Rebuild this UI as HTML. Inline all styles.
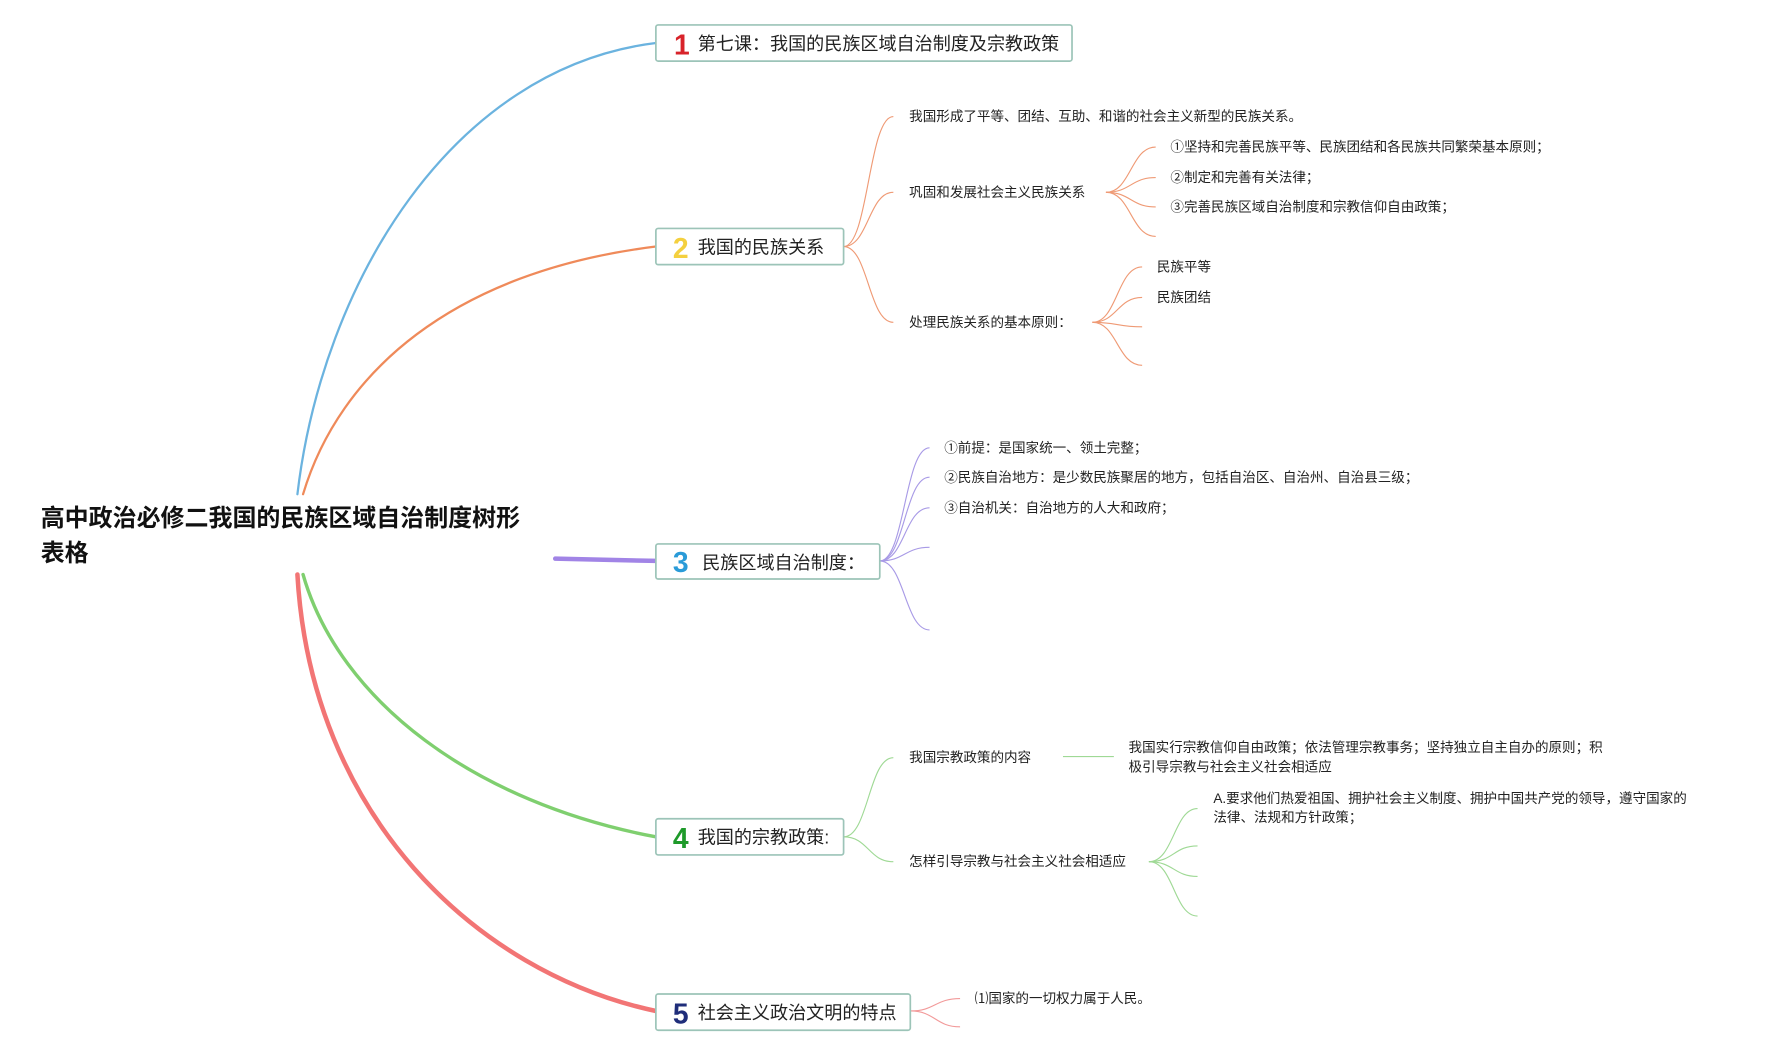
<!DOCTYPE html>
<html><head><meta charset="utf-8"><style>
html,body{margin:0;padding:0;background:#fff;width:1772px;height:1054px;overflow:hidden}
svg text{font-family:"Liberation Sans","Noto Sans CJK SC",sans-serif}
</style></head><body>
<svg width="1772" height="1054" viewBox="0 0 1567 932" xmlns="http://www.w3.org/2000/svg">
<g fill="none" stroke-linecap="round">
<path d="M263 437 C285 250 400 60 580 38" stroke="#6bb3df" stroke-width="2"/>
<path d="M268 437 C300 330 400 240 580 218" stroke="#ef8a5a" stroke-width="2"/>
<path d="M491 494 L580 496" stroke="#a184e6" stroke-width="4"/>
<path d="M268 508 C300 620 420 710 580 740" stroke="#7fcf6f" stroke-width="3"/>
<path d="M263 508 C275 720 420 860 580 894" stroke="#f27575" stroke-width="4"/>
</g>
<g fill="none" stroke="#ef9a75" stroke-width="1">
<path d="M746 218 C768 218 768 103 790 103"/>
<path d="M746 218 C768 218 768 170 790 170"/>
<path d="M746 218 C768 218 768 285 790 285"/>
<path d="M978 170 C1000 170 1000 130 1022 130"/>
<path d="M978 170 C1000 170 1000 157 1022 157"/>
<path d="M978 170 C1000 170 1000 183 1022 183"/>
<path d="M978 170 C1000 170 1000 209 1022 209"/>
<path d="M966 285 C988 285 988 236 1010 236"/>
<path d="M966 285 C988 285 988 263 1010 263"/>
<path d="M966 285 C988 285 988 289 1010 289"/>
<path d="M966 285 C988 285 988 323 1010 323"/>
</g>
<g fill="none" stroke="#a89ae6" stroke-width="1">
<path d="M778 496 C800 496 800 396 822 396"/>
<path d="M778 496 C800 496 800 422 822 422"/>
<path d="M778 496 C800 496 800 449 822 449"/>
<path d="M778 496 C800 496 800 484 822 484"/>
<path d="M778 496 C800 496 800 557 822 557"/>
</g>
<g fill="none" stroke="#9fd995" stroke-width="1">
<path d="M746 740 C768 740 768 670 790 670"/>
<path d="M746 740 C768 740 768 762 790 762"/>
<path d="M940 669 L985 669"/>
<path d="M1016 762 C1038 762 1038 715 1059 715"/>
<path d="M1016 762 C1038 762 1038 748 1059 748"/>
<path d="M1016 762 C1038 762 1038 775 1059 775"/>
<path d="M1016 762 C1038 762 1038 810 1059 810"/>
</g>
<g fill="none" stroke="#f29a9a" stroke-width="1">
<path d="M805 894 C827 894 827 883 849 883"/>
<path d="M805 894 C827 894 827 908 849 908"/>
</g>
<g fill="#fff" stroke="#9cc4b8" stroke-width="1.5">
<rect x="580" y="22" width="368" height="32" rx="2"/>
<rect x="580" y="202" width="166" height="32" rx="2"/>
<rect x="580" y="481" width="198" height="31" rx="2"/>
<rect x="580" y="724" width="166" height="32" rx="2"/>
<rect x="580" y="879" width="225" height="32" rx="2"/>
</g>
<g font-weight="bold" font-size="25">
<text x="596" y="48" fill="#d8232a">1</text>
<text x="595" y="228" fill="#f4d03f">2</text>
<text x="595" y="506" fill="#2a9bd8">3</text>
<text x="595" y="750" fill="#1e9a2a">4</text>
<text x="595" y="905" fill="#1f2d7a">5</text>
</g>
<g font-size="16" fill="#222">
<text x="617" y="44">第七课：我国的民族区域自治制度及宗教政策</text>
<text x="617" y="224">我国的民族关系</text>
<text x="621" y="503">民族区域自治制度：</text>
<text x="617" y="746">我国的宗教政策:</text>
<text x="617" y="901">社会主义政治文明的特点</text>
</g>
<g font-size="21.2" font-weight="bold" fill="#111">
<text x="36" y="465">高中政治必修二我国的民族区域自治制度树形</text>
<text x="36" y="496">表格</text>
</g>
<g font-size="12" fill="#222">
<text x="804" y="107">我国形成了平等、团结、互助、和谐的社会主义新型的民族关系。</text>
<text x="804" y="174">巩固和发展社会主义民族关系</text>
<text x="804" y="289">处理民族关系的基本原则：</text>
<text x="1035" y="134">①坚持和完善民族平等、民族团结和各民族共同繁荣基本原则；</text>
<text x="1035" y="161">②制定和完善有关法律；</text>
<text x="1035" y="187">③完善民族区域自治制度和宗教信仰自由政策；</text>
<text x="1023" y="240">民族平等</text>
<text x="1023" y="267">民族团结</text>
<text x="835" y="400">①前提：是国家统一、领土完整；</text>
<text x="835" y="426">②民族自治地方：是少数民族聚居的地方，包括自治区、自治州、自治县三级；</text>
<text x="835" y="453">③自治机关：自治地方的人大和政府；</text>
<text x="804" y="674">我国宗教政策的内容</text>
<text x="998" y="665">我国实行宗教信仰自由政策；依法管理宗教事务；坚持独立自主自办的原则；积</text>
<text x="998" y="682">极引导宗教与社会主义社会相适应</text>
<text x="804" y="766">怎样引导宗教与社会主义社会相适应</text>
<text x="1073" y="710">A.要求他们热爱祖国、拥护社会主义制度、拥护中国共产党的领导，遵守国家的</text>
<text x="1073" y="727">法律、法规和方针政策；</text>
<text x="862" y="887">⑴国家的一切权力属于人民。</text>
</g>
</svg>
</body></html>
